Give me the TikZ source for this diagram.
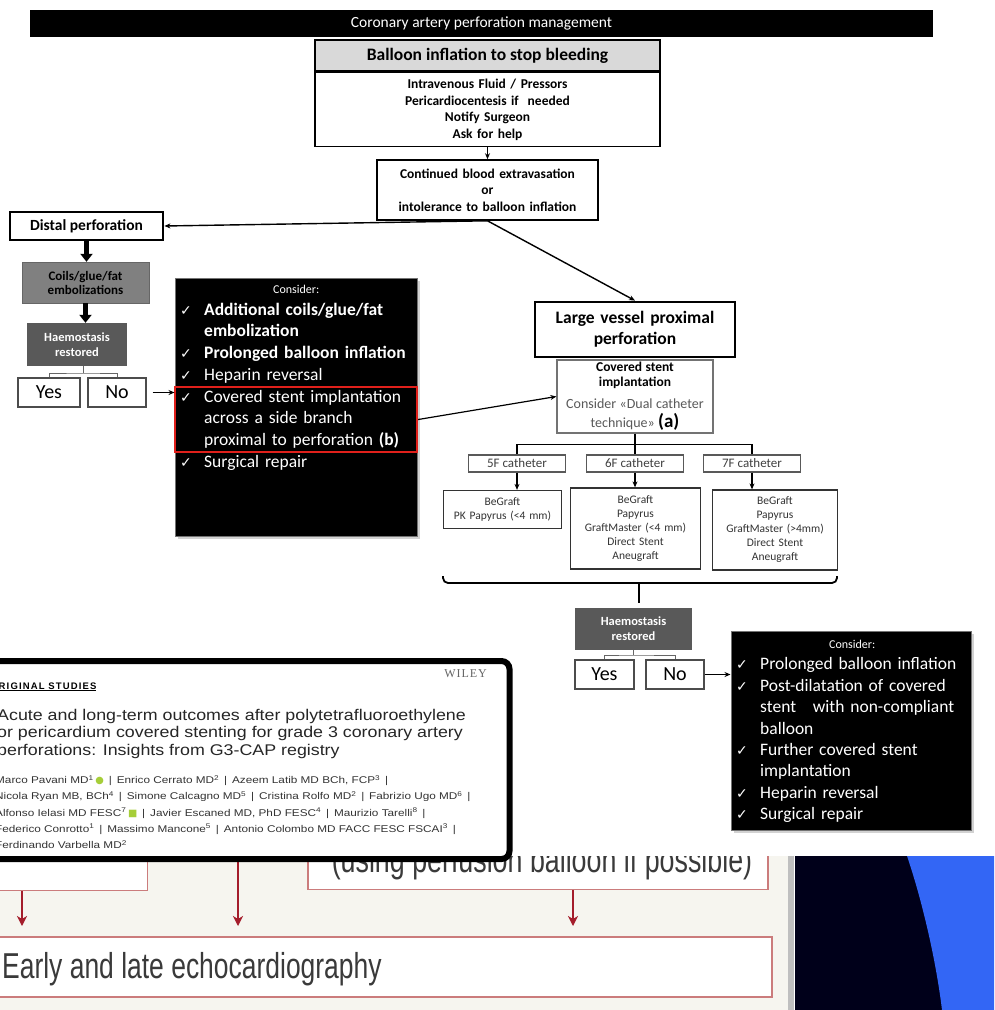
\documentclass[tikz,border=0pt]{standalone}
\usepackage{fontspec}
\setmainfont{Carlito}
\newfontfamily\symf{DejaVu Sans}
\newfontfamily\artf{Liberation Sans}
\newfontfamily\arttitlef[FakeStretch=1.15]{Liberation Sans}
\newfontfamily\authorf[FakeStretch=1.2]{Liberation Sans}
\newfontfamily\wileyf{Liberation Serif}
\newfontfamily\condf[FakeStretch=0.745]{Liberation Sans}
\newfontfamily\echof[FakeStretch=0.735]{Liberation Sans}
\usepackage{xcolor}
\usepackage{tikz}
\usetikzlibrary{arrows.meta, positioning, calc, shadows}

\definecolor{headgrey}{HTML}{D9D9D9}
\definecolor{midgrey}{HTML}{808080}
\definecolor{darkgrey}{HTML}{595959}
\definecolor{selred}{HTML}{E0201B}
\definecolor{paper}{HTML}{F6F5EF}
\definecolor{boxred}{HTML}{CB7C7C}
\definecolor{arrowred}{HTML}{A41D2B}
\definecolor{slidetext}{HTML}{3A3A3A}
\definecolor{navy}{HTML}{00001A}
\definecolor{slideblue}{HTML}{3366F5}
\definecolor{orcid}{HTML}{A6CE39}

\newcommand{\fs}[2]{\fontsize{#1}{#2}\selectfont}
% ticked line and continuation line of a "Consider" list
\newcommand{\chk}{\par\noindent\makebox[24pt][l]{\symf\fs{14}{14}✓}}
\newcommand{\cnt}{\par\noindent\hspace*{24pt}}

\tikzset{
  titlebar/.style={
    rectangle, fill=black, text=white,
    font=\fs{15.5}{17}
  },
  box/.style={
    rectangle, draw, line width=1.6pt, fill=white,
    align=center, inner sep=2pt
  },
  headbox/.style={box, fill=headgrey, font=\bfseries\fs{17.5}{20}},
  bodybox/.style={box, font=\bfseries\fs{13.5}{16.5}},
  framebox/.style={box, line width=2.8pt, font=\bfseries\fs{15.5}{18}},
  greybox/.style={
    rectangle, fill=midgrey, draw=midgrey!80!black,
    align=center, font=\bfseries\fs{13}{14}
  },
  darkbox/.style={
    rectangle, fill=darkgrey, text=white,
    align=center, font=\bfseries\fs{12.5}{14.5}
  },
  ynbox/.style={
    rectangle, draw=black!70, line width=1.2pt, fill=white,
    font=\fs{20}{22}, minimum height=29pt, inner sep=0pt
  },
  blackbox/.style={
    rectangle, fill=black, draw=black!55, line width=1pt,
    drop shadow={opacity=0.35, shadow xshift=3pt, shadow yshift=-3pt}
  },
  listtext/.style={
    text=white, align=left, inner sep=0pt,
    text width=232pt, font=\fs{17.5}{21.7}
  },
  selframe/.style={rectangle, draw=selred, line width=2.2pt},
  catbox/.style={
    rectangle, draw=black!65, line width=1.4pt, fill=white,
    text=black!75, font=\fs{13}{13}, inner sep=0pt,
    minimum height=17pt, minimum width=97pt
  },
  stentbox/.style={
    rectangle, draw=black!80, line width=1.3pt, fill=white,
    align=center, text=black!80, font=\fs{11.5}{14}
  },
  line/.style={draw, line width=1.4pt, -{Stealth[length=6pt, width=5pt]}},
  thick line/.style={draw, line width=4.5pt, -{Triangle[length=8pt, width=12pt]}},
  conn/.style={draw, line width=1.3pt},
  artbox/.style={
    rectangle, draw=black, line width=6pt, fill=white,
    rounded corners=8pt
  },
  slidebox/.style={rectangle, draw=boxred, line width=1.5pt, fill=white},
  red line/.style={
    draw=arrowred, line width=2.6pt, shorten >=10pt,
    -{Stealth[length=10pt, width=10pt, inset=3pt]}
  },
}

\begin{document}
\begin{tikzpicture}[x=1pt, y=-1pt]
  \path[use as bounding box, clip] (0,0) rectangle (994,1010);
  \fill[white] (0,0) rectangle (994,1010);

  % slide underneath
  \fill[paper] (0,856) rectangle (788,1010);
  \fill[black!25] (788,856) rectangle (794,1010);
  \fill[navy] (795,856) rectangle (994,1010);
  \fill[slideblue] (907,856) .. controls (922,900) and (936,960) .. (942,1010)
    -- (994,1010) -- (994,856) -- cycle;

  \begin{scope}
    \clip (0,856) rectangle (994,1010);
    \node[slidebox, minimum width=170pt, minimum height=50pt, anchor=south east]
      (lbox) at (148,891) {};
    \node[slidebox, minimum width=460pt, minimum height=50pt, anchor=south west]
      (ubox) at (307,890) {};
    \node[anchor=base, text=slidetext, font=\condf\fs{36}{40}, inner sep=0pt]
      (utxt) at (542,872) {(using perfusion balloon if possible)};
  \end{scope}
  \node[slidebox, minimum width=781pt, minimum height=60pt, anchor=north west]
    (echo) at (-10,936) {};
  \node[anchor=base west, text=slidetext, font=\echof\fs{36}{40}, inner sep=0pt]
    (etxt) at (2,978) {Early and late echocardiography};

  \coordinate (a1) at (22,891);
  \coordinate (a2) at (238,856);
  \coordinate (a3) at (573,890);
  \draw[red line] (a1) -- (a1 |- echo.north);
  \draw[red line] (a2) -- (a2 |- echo.north);
  \draw[red line] (a3) -- (a3 |- echo.north);

  % flowchart
  \node[titlebar, minimum width=903pt, minimum height=27pt]
    (title) at (481.5,23.5) {Coronary artery perforation management};

  \node[headbox, minimum width=345pt, minimum height=31pt]
    (bhead) at (487.5,55.5) {Balloon inflation to stop bleeding};
  \node[bodybox, text width=330pt, minimum width=345pt, minimum height=74pt,
    below=0pt of bhead]
    (bbody) {Intravenous Fluid / Pressors\\Pericardiocentesis if\ \ needed\\
             Notify Surgeon\\Ask for help};

  \node[bodybox, text width=215pt, minimum width=221pt, minimum height=60pt]
    (cont) at (487.5,190) {Continued blood extravasation\\or\\
                           intolerance to balloon inflation};

  \node[framebox, minimum width=153pt, minimum height=28pt]
    (distal) at (86.5,226) {Distal perforation};

  \node[greybox, text width=120pt, minimum width=127pt, minimum height=41pt]
    (coils) at (85.5,282.5) {Coils/glue/fat\\embolizations};

  \node[darkbox, text width=94pt, minimum width=98pt, minimum height=43pt]
    (haem1) at (77,344.5) {Haemostasis\\restored};

  \node[ynbox, minimum width=62pt] (yes1) at (49,392.5) {Yes};
  \node[ynbox, minimum width=58pt] (no1) at (117,392.5) {No};

  \node[blackbox, minimum width=242pt, minimum height=258pt]
    (cons1) at (296,407) {};
  \node[listtext, anchor=north west] (cons1txt) at (180,285) {%
    {\centering\fs{12}{14}Consider:\par}
    \chk\textbf{Additional coils/glue/fat}
    \cnt\textbf{embolization}
    \chk\textbf{Prolonged balloon inflation}
    \chk Heparin reversal
    \chk Covered stent implantation
    \cnt across a side branch
    \cnt proximal to perforation \textbf{(b)}
    \chk Surgical repair\par};
  \node[selframe, minimum width=242pt, minimum height=65pt]
    (sel) at (296,419.5) {};

  \node[framebox, text width=190pt, minimum width=200pt, minimum height=55pt,
    font=\bfseries\fs{17.5}{21}]
    (large) at (635,329.5) {Large vessel proximal\\perforation};

  \node[box, draw=black!55, line width=1.3pt, text width=150pt,
    minimum width=156pt, minimum height=73pt]
    (cov) at (635,396.5) {%
      {\bfseries\fs{13.5}{15}Covered stent\\implantation\par}\vspace{3pt}
      {\fs{14}{19}\color{black!65}Consider «Dual catheter\\technique»
       {\color{black}\bfseries\fs{19}{19}(a)}\par}};

  \node[catbox] (c5) at (517,463.5) {5F catheter};
  \node[catbox] (c6) at (635,463.5) {6F catheter};
  \node[catbox] (c7) at (752,463.5) {7F catheter};

  \node[stentbox, text width=112pt, minimum width=118pt, minimum height=38pt]
    (s1) at (502.5,509.5) {BeGraft\\PK Papyrus (<4 mm)};
  \node[stentbox, text width=123pt, minimum width=129pt, minimum height=81pt]
    (s2) at (635.5,528.5) {BeGraft\\Papyrus\\GraftMaster (<4 mm)\\
                           Direct Stent\\Aneugraft};
  \node[stentbox, text width=118pt, minimum width=124pt, minimum height=80pt]
    (s3) at (775,530) {BeGraft\\Papyrus\\GraftMaster (>4mm)\\
                       Direct Stent\\Aneugraft};

  \node[darkbox, text width=110pt, minimum width=117pt, minimum height=42pt]
    (haem2) at (633.5,628.5) {Haemostasis\\restored};

  \node[ynbox, minimum width=59pt] (yes2) at (604.5,674.5) {Yes};
  \node[ynbox, minimum width=58pt] (no2) at (675,674.5) {No};

  \node[blackbox, minimum width=240pt, minimum height=199pt]
    (cons2) at (851,730.5) {};
  \node[listtext, anchor=north west, font=\fs{17.5}{21.4}]
    (cons2txt) at (736,640) {%
    {\centering\fs{12}{14}Consider:\par}
    \chk Prolonged balloon inflation
    \chk Post-dilatation of covered
    \cnt stent\hspace{11pt} with non-compliant
    \cnt balloon
    \chk Further covered stent
    \cnt implantation
    \chk Heparin reversal
    \chk Surgical repair\par};

  % connectors
  \draw[line] (bbody.south) -- (cont.north);
  \draw[line] (cont.south) -- (distal.east);
  \draw[line] (cont.south) -- (large.north);
  \draw[thick line] (distal.south) -- (distal.south |- coils.north);
  \draw[thick line] (coils.south) -- (coils.south |- haem1.north);

  \coordinate (hj1) at (83,373);
  \draw[conn, draw=black!60, line width=1pt] (haem1.south -| hj1) -- (hj1);
  \draw[conn, draw=black!60, line width=1pt] (yes1.north) |- (hj1) -| (no1.north);
  \draw[line, line width=1pt, shorten <=6pt] (no1.east) -- (no1.east -| cons1.west);

  \draw[line, line width=1.2pt] (sel.east) -- (cov.west);

  \draw[conn] (cov.south) -- ++(0,11) coordinate (tj);
  \draw[conn] (c5.north) |- (tj) -| (c7.north);
  \draw[conn] (tj) -- (c6.north);
  \draw[line] (c5.south) -- (c5.south |- s1.north);
  \draw[line] (c6.south) -- (c6.south |- s2.north);
  \draw[line] (c7.south) -- (c7.south |- s3.north);

  \coordinate (brl) at (443,576);
  \coordinate (brr) at (837,576);
  \coordinate (brm) at (639,583);
  \draw[conn, line width=1.8pt, rounded corners=5pt]
    (brl) -- ++(0,7) -- (brr |- brm) -- (brr);
  \draw[conn, line width=1.8pt] (brm) -- ($(brm |- haem2.north)+(0,-4)$);

  \coordinate (hj2) at (633,655);
  \draw[conn, draw=black!60, line width=1pt] (haem2.south -| hj2) -- (hj2);
  \draw[conn, draw=black!60, line width=1pt] (yes2.north) |- (hj2) -| (no2.north);
  \draw[line, line width=1.2pt] (no2.east) -- (no2.east -| cons2.west);

  % article snippet on top
  \node[artbox, minimum width=535pt, minimum height=198pt]
    (art) at (242,760) {};
  \node[anchor=base east, text=black!60, font=\wileyf\fs{12}{12}, inner sep=0pt]
    (wiley) at (487,677) {\addfontfeature{LetterSpace=8}WILEY};
  \node[anchor=base west, font=\artf\bfseries\fs{9.5}{9.5}, inner sep=0pt]
    (orig) at (-10,689) {\underline{\addfontfeature{LetterSpace=12}ORIGINAL STUDIES}};
  \node[anchor=north west, align=left, text=black!85, inner sep=0pt,
    font=\arttitlef\fs{15.5}{17.5}]
    (atitle) at (-3,709) {Acute and long-term outcomes after polytetrafluoroethylene\\
      or pericardium covered stenting for grade 3 coronary artery\\
      perforations: Insights from G3-CAP registry};
  \node[anchor=north west, align=left, text=black!80, inner sep=0pt,
    font=\authorf\fs{9.8}{16.3}]
    (authors) at (-5,775) {Marco Pavani MD\textsuperscript{1}\,{\color{orcid}\symf●}\enskip|\enskip
      Enrico Cerrato MD\textsuperscript{2}\enskip|\enskip Azeem Latib MD BCh, FCP\textsuperscript{3}\enskip|\\
      Nicola Ryan MB, BCh\textsuperscript{4}\enskip|\enskip Simone Calcagno MD\textsuperscript{5}\enskip|\enskip
      Cristina Rolfo MD\textsuperscript{2}\enskip|\enskip Fabrizio Ugo MD\textsuperscript{6}\enskip|\\
      Alfonso Ielasi MD FESC\textsuperscript{7}\,{\color{orcid}\symf■}\enskip|\enskip
      Javier Escaned MD, PhD FESC\textsuperscript{4}\enskip|\enskip Maurizio Tarelli\textsuperscript{8}\enskip|\\
      Federico Conrotto\textsuperscript{1}\enskip|\enskip Massimo Mancone\textsuperscript{5}\enskip|\enskip
      Antonio Colombo MD FACC FESC FSCAI\textsuperscript{3}\enskip|\\
      Ferdinando Varbella MD\textsuperscript{2}};
\end{tikzpicture}
\end{document}
